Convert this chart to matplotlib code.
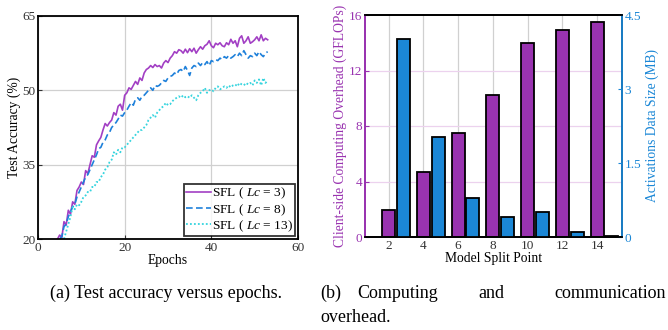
import numpy as np
import matplotlib.pyplot as plt

plt.rcParams['font.family'] = ['Liberation Serif', 'DejaVu Serif']
plt.rcParams['mathtext.fontset'] = 'custom'
plt.rcParams['mathtext.rm'] = 'Liberation Serif'
plt.rcParams['mathtext.it'] = 'Liberation Serif:italic'

# accuracy curves, one value every half epoch
acc_lc3 = [20.0, 20.8, 20.3, 23.5, 22.8, 25.8, 25.0, 27.5, 27.0, 29.8, 30.5, 31.5, 31.0, 33.8, 33.2,
           35.0, 36.8, 36.5, 39.0, 39.8, 40.5, 42.0, 43.3, 42.8, 43.5, 44.0, 45.5, 45.0, 46.8, 47.2,
           46.0, 49.0, 49.5, 50.5, 50.2, 51.0, 51.8, 51.2, 52.5, 52.0, 53.5, 54.2, 54.5, 55.0, 54.6,
           55.2, 54.8, 55.0, 54.5, 55.5, 56.0, 55.6, 56.5, 57.0, 57.8, 57.5, 58.2, 58.0, 57.5, 58.3,
           57.6, 58.4, 57.8, 58.5, 57.5, 58.2, 58.8, 58.3, 59.0, 59.3, 60.0, 59.0, 58.6, 59.5, 59.2,
           59.6, 59.0, 58.8, 59.6, 59.2, 60.3, 59.5, 60.0, 58.8, 60.5, 61.0, 59.5, 60.0, 60.8, 59.5,
           59.8, 60.2, 60.8, 60.0, 61.2, 60.0, 60.5, 60.2]
start_lc3 = 4.5

acc_lc8 = [20.0, 20.5, 22.5, 23.0, 24.5, 25.5, 26.5, 27.0, 28.5, 29.5, 30.5, 31.5, 32.5, 33.0, 34.0,
           35.0, 36.0, 37.0, 38.2, 38.5, 39.5, 40.0, 41.0, 41.5, 42.5, 43.0, 43.5, 44.2, 45.0, 44.8,
           45.5, 46.0, 46.8, 47.5, 47.0, 48.2, 48.5, 48.0, 48.8, 49.0, 49.5, 50.0, 50.5, 50.0, 51.0,
           50.8, 51.0, 51.5, 52.0, 51.8, 52.5, 52.8, 53.0, 53.5, 53.2, 54.0, 54.2, 53.8, 54.8, 54.0,
           53.0, 54.5, 55.0, 54.8, 55.5, 55.0, 55.6, 55.2, 55.8, 55.0, 56.0, 55.8, 56.2, 56.0, 56.5,
           56.2, 56.8, 56.5, 57.0, 56.5, 56.8, 57.2, 56.8, 57.5, 57.0, 58.0, 57.2, 56.5, 57.0, 56.8,
           57.5, 57.0, 57.8, 57.2, 56.8, 57.5, 57.8]
start_lc8 = 5.0

acc_lc13 = [20.0, 21.5, 23.0, 24.5, 26.5, 26.0, 27.0, 26.8, 27.5, 28.5, 28.8, 29.5, 29.5, 30.5, 30.5,
            31.5, 31.5, 32.5, 33.0, 34.0, 34.5, 35.5, 36.0, 37.5, 37.0, 38.0, 37.5, 38.5, 38.5, 39.0,
            39.5, 40.0, 40.5, 41.0, 41.5, 42.0, 42.0, 42.5, 43.0, 44.0, 44.5, 45.0, 44.5, 45.5, 46.0,
            46.5, 46.8, 47.5, 47.0, 47.2, 47.8, 48.2, 48.5, 48.8, 48.5, 49.0, 48.6, 48.8, 48.5, 49.0,
            48.5, 48.0, 49.0, 49.5, 49.8, 50.5, 49.5, 50.0, 50.2, 49.8, 50.5, 50.8, 50.2, 50.5, 50.8,
            50.5, 51.0, 50.6, 51.0, 51.2, 50.8, 51.5, 51.2, 51.0, 51.5, 51.2, 51.5, 51.0, 52.0, 51.5,
            52.2, 51.0, 52.5, 51.5, 52.0]
start_lc13 = 6.0

# split point bars
split_points = [2, 4, 6, 8, 10, 12, 14]
client_gflops = [1.95, 4.72, 7.5, 10.27, 13.98, 14.9, 15.47]
act_mb = [4.02, 2.02, 0.80, 0.41, 0.51, 0.11, 0.02]

purple = '#9933b0'
blue = '#1b87d6'
cyan = '#35d4de'
tick_fs = 9.5
lab_fs = 9.8

fig = plt.figure(figsize=(6.68, 3.30), dpi=100)

# (a) accuracy vs epochs
ax1 = fig.add_axes([38/668, 1-239/330, 260/668, 223/330])
ax1.plot(start_lc3 + 0.5*np.arange(len(acc_lc3)), acc_lc3, color='#a23fc4', lw=1.2,
         label='SFL ( $Lc$ = 3)')
ax1.plot(start_lc8 + 0.5*np.arange(len(acc_lc8)), acc_lc8, color='#1e80da', lw=1.2, ls=(0, (4, 2)),
         label='SFL ( $Lc$ = 8)')
ax1.plot(start_lc13 + 0.5*np.arange(len(acc_lc13)), acc_lc13, color=cyan, lw=1.3, ls=(0, (1, 1.2)),
         label='SFL ( $Lc$ = 13)')
ax1.set_xlim(0, 60)
ax1.set_ylim(20, 65)
ax1.set_xticks([0, 20, 40, 60])
ax1.set_yticks([20, 35, 50, 65])
ax1.grid(True, color='#d0d0d0', lw=0.9)
ax1.tick_params(direction='in', labelsize=tick_fs, length=3, colors='#333333', pad=2)
for s in ax1.spines.values():
    s.set_linewidth(1.3)
ax1.set_xlabel('Epochs', fontsize=lab_fs, labelpad=0)
ax1.set_ylabel('Test Accuracy (%)', fontsize=lab_fs, labelpad=1)
leg = ax1.legend(loc='lower right', fontsize=9.6, handlelength=1.9, handletextpad=0.05,
                 borderpad=0.15, labelspacing=0.05, borderaxespad=0.25, fancybox=False)
leg.get_frame().set_edgecolor('black')
leg.get_frame().set_linewidth(1.3)

# (b) computing and communication overhead
ax2 = fig.add_axes([365/668, 1-237/330, 257/668, 222/330])
ax3 = ax2.twinx()
w = 0.75
x = np.array(split_points)
ax2.bar(x, client_gflops, width=w, color=purple, edgecolor='black', lw=1.3, zorder=3)
ax3.bar(x + 0.85, act_mb, width=w, color=blue, edgecolor='black', lw=1.3, zorder=3)
ax2.set_xlim(0.63, 15.44)
ax2.set_ylim(0, 16)
ax3.set_ylim(0, 4.5)
ax2.set_xticks(split_points)
ax2.set_yticks([0, 4, 8, 12, 16])
ax3.set_yticks([0, 1.5, 3, 4.5])
ax3.set_yticklabels(['0', '1.5', '3', '4.5'])
for xv in split_points:
    ax2.axvline(xv, color='#d0d0d0', lw=0.9, zorder=0)
for yv in [4, 8, 12]:
    ax2.axhline(yv, color='#ecd2ee', lw=0.9, zorder=0)
ax2.tick_params(axis='x', direction='in', labelsize=tick_fs, length=3, colors='#333333', pad=2)
ax2.tick_params(axis='y', direction='in', labelsize=tick_fs, length=3, colors=purple, pad=2)
ax3.tick_params(axis='y', direction='in', labelsize=tick_fs, length=3, colors=blue, pad=2)
ax2.spines['left'].set_color(purple)
ax3.spines['left'].set_color(purple)
ax3.spines['right'].set_color(blue)
for s in ['left', 'right', 'top', 'bottom']:
    ax2.spines[s].set_linewidth(1.3)
    ax3.spines[s].set_linewidth(1.3)
ax2.set_xlabel('Model Split Point', fontsize=lab_fs, labelpad=0)
ax2.set_ylabel('Client-side Computing Overhead (GFLOPs)', fontsize=lab_fs, color=purple, labelpad=1)
ax3.set_ylabel('Activations Data Size (MB)', fontsize=lab_fs, color=blue, labelpad=3)

# captions
cap_fs = 13
fig.text(50/668, 1-293/330, '(a) Test accuracy versus epochs.', fontsize=cap_fs, va='center')
fig.text(320/668, 1-293/330, '(b)', fontsize=cap_fs, va='center')
fig.text(357/668, 1-293/330, 'Computing', fontsize=cap_fs, va='center')
fig.text(478/668, 1-293/330, 'and', fontsize=cap_fs, va='center')
fig.text(666/668, 1-293/330, 'communication', fontsize=cap_fs, va='center', ha='right')
fig.text(320/668, 1-318/330, 'overhead.', fontsize=cap_fs, va='center')

fig.savefig('out.png', dpi=100)
